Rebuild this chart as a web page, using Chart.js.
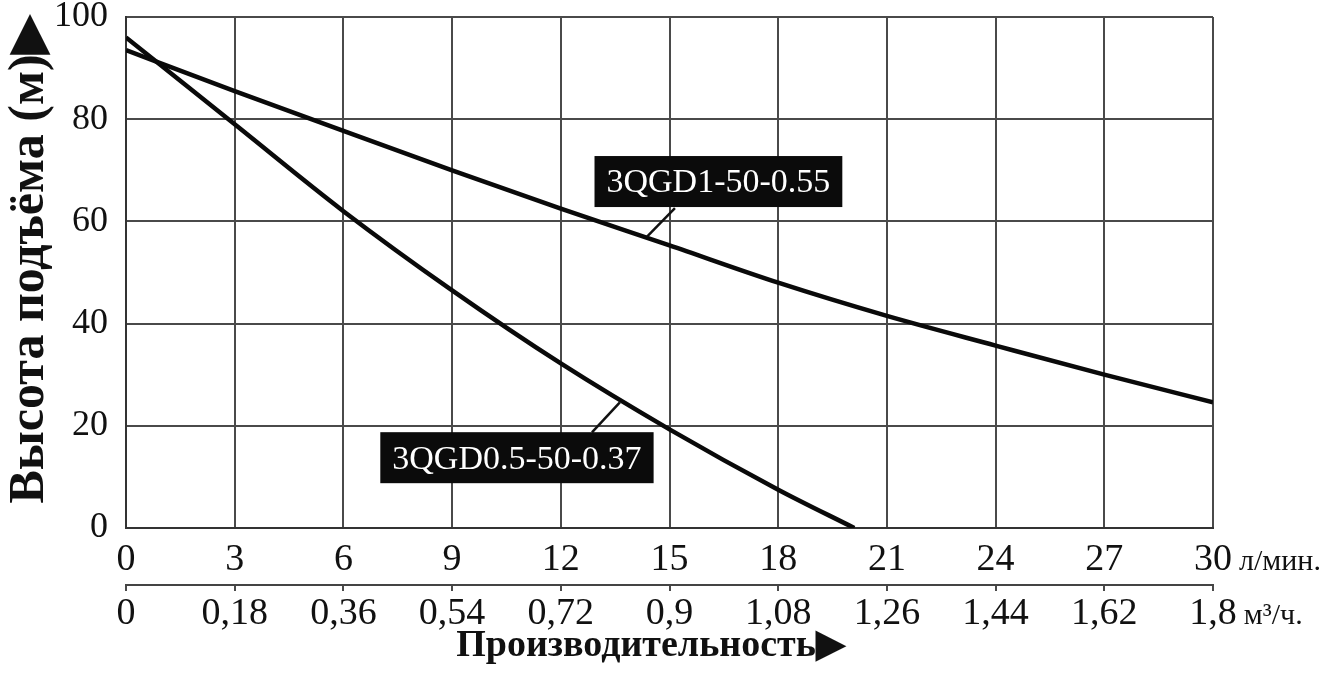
<!DOCTYPE html>
<html>
<head>
<meta charset="utf-8">
<script src="https://cdn.jsdelivr.net/npm/chart.js@4.4.1/dist/chart.umd.min.js"></script>
<style>
  html, body { margin: 0; padding: 0; background: #fff; }
</style>
</head>
<body>
<canvas id="chart" width="1326" height="686"></canvas>
<script>
// flow, l/min, and the same ticks in m3/h
const flowLmin = [0, 3, 6, 9, 12, 15, 18, 21, 24, 27, 30];
const flowM3h = ['0', '0,18', '0,36', '0,54', '0,72', '0,9', '1,08', '1,26', '1,44', '1,62', '1,8'];
const headTicks = [0, 20, 40, 60, 80, 100];

// 3QGD1-50-0.55
const pump1Flow = [0, 3, 6, 9, 12, 15, 18, 21, 24, 27, 30];
const pump1Head = [93.5, 85.5, 77.7, 70, 62.5, 55.3, 48, 41.5, 35.7, 30, 24.6];

// 3QGD0.5-50-0.37
const pump2Flow = [0, 3, 6, 9, 12, 15, 18, 20.1];
const pump2Head = [96, 79, 62, 46.5, 32.2, 19.3, 7.5, 0];

const serif = "'Liberation Serif', 'Times New Roman', serif";
const gridColor = '#4a4a4a';

function toPoints(xs, ys) {
    return xs.map(function (x, i) { return { x: x, y: ys[i] }; });
}

// unit captions after the last tick + black name tags on the curves
const extras = {
    id: 'extras',
    afterDraw: function (chart, args, opts) {
        var ctx = chart.ctx;
        var xs = chart.scales.x, x2 = chart.scales.x2, ys = chart.scales.y;
        ctx.save();

        [[xs, opts.units[0]], [x2, opts.units[1]]].forEach(function (pair) {
            var items = pair[0].getLabelItems();
            var last = items[items.length - 1];
            var tr = last.options.translation;
            ctx.font = opts.tickFont;
            var half = ctx.measureText(String(last.label)).width / 2;
            ctx.font = opts.unitFont;
            ctx.fillStyle = '#111';
            ctx.textAlign = 'left';
            ctx.textBaseline = 'middle';
            ctx.fillText(pair[1], tr[0] + half + 7, tr[1] + (last.textOffset || 0) + 2);
        });

        opts.tags.forEach(function (t) {
            var ax = xs.getPixelForValue(t.at[0]), ay = ys.getPixelForValue(t.at[1]);
            var bx = xs.getPixelForValue(t.to[0]), by = ys.getPixelForValue(t.to[1]);
            var cx = xs.getPixelForValue(t.box[0]), cy = ys.getPixelForValue(t.box[1]);
            ctx.strokeStyle = '#111';
            ctx.lineWidth = 2.5;
            ctx.beginPath();
            ctx.moveTo(ax, ay);
            ctx.lineTo(bx, by);
            ctx.stroke();

            ctx.font = opts.tagFont;
            var w = ctx.measureText(t.text).width + 24, h = 51;
            ctx.fillStyle = '#0b0b0b';
            ctx.fillRect(cx - w / 2, cy - h / 2, w, h);
            ctx.fillStyle = '#fff';
            ctx.textAlign = 'center';
            ctx.textBaseline = 'middle';
            ctx.fillText(t.text, cx, cy + 2);
        });
        ctx.restore();
    }
};

const ctx = document.getElementById('chart');

new Chart(ctx, {
    type: 'scatter',
    data: {
        datasets: [{
            label: '3QGD1-50-0.55',
            data: toPoints(pump1Flow, pump1Head),
            showLine: true,
            borderColor: '#0a0a0a',
            borderWidth: 4.5,
            pointRadius: 0,
            cubicInterpolationMode: 'monotone'
        }, {
            label: '3QGD0.5-50-0.37',
            data: toPoints(pump2Flow, pump2Head),
            showLine: true,
            borderColor: '#0a0a0a',
            borderWidth: 4.5,
            pointRadius: 0,
            cubicInterpolationMode: 'monotone'
        }]
    },
    plugins: [extras],
    options: {
        responsive: false,
        animation: false,
        layout: { padding: { top: 17, right: 113, left: 0, bottom: 0 } },
        scales: {
            x: {
                type: 'linear',
                position: 'bottom',
                min: 0, max: 30,
                afterBuildTicks: function (s) { s.ticks = flowLmin.map(function (v) { return { value: v }; }); },
                afterFit: function (s) { s.height = 57; },
                ticks: {
                    padding: 9,
                    color: '#111',
                    font: { family: serif, size: 38 },
                    maxRotation: 0,
                    callback: function (v) { return v; }
                },
                grid: { color: gridColor, lineWidth: 2, drawTicks: false },
                border: { display: true, color: '#333', width: 2 }
            },
            x2: {
                type: 'linear',
                position: 'bottom',
                min: 0, max: 30,
                afterBuildTicks: function (s) { s.ticks = flowLmin.map(function (v) { return { value: v }; }); },
                afterFit: function (s) { s.height = 101; },
                ticks: {
                    padding: 0,
                    color: '#111',
                    font: { family: serif, size: 38 },
                    maxRotation: 0,
                    callback: function (v, i) { return flowM3h[i]; }
                },
                grid: { drawOnChartArea: false, color: gridColor, lineWidth: 2, tickLength: 6 },
                border: { display: true, color: '#444', width: 2 },
                title: {
                    display: true,
                    // trailing em space nudges the centred title a little to the left
                    text: 'Производительность▶\u2003',
                    color: '#111',
                    font: { family: serif, size: 38, weight: 'bold' },
                    padding: { top: 0, bottom: 17 }
                }
            },
            y: {
                min: 0, max: 100,
                afterBuildTicks: function (s) { s.ticks = headTicks.map(function (v) { return { value: v }; }); },
                afterFit: function (s) { s.width = 126; },
                ticks: {
                    padding: 0,
                    color: '#111',
                    font: { family: serif, size: 36, lineHeight: 0.9 }
                },
                grid: { color: gridColor, lineWidth: 2, drawTicks: true, tickLength: 18, tickColor: 'rgba(0,0,0,0)' },
                border: { display: true, color: '#333', width: 2 },
                title: {
                    display: true,
                    // leading en space lifts the rotated title slightly
                    text: '\u2002Высота подъёма (м)▶',
                    color: '#111',
                    font: { family: serif, size: 50, weight: 'bold' },
                    padding: { top: 0, bottom: 0 }
                }
            }
        },
        plugins: {
            legend: { display: false },
            tooltip: { enabled: false },
            extras: {
                tickFont: '38px ' + serif,
                unitFont: '30px ' + serif,
                tagFont: '34px ' + serif,
                units: ['л/мин.', 'м³/ч.'],
                tags: [
                    { text: '3QGD1-50-0.55', at: [14.38, 57.0], to: [15.15, 62.6], box: [16.35, 67.8] },
                    { text: '3QGD0.5-50-0.37', at: [13.63, 24.6], to: [12.86, 18.7], box: [10.79, 13.76] }
                ]
            }
        }
    }
});
</script>
</body>
</html>
